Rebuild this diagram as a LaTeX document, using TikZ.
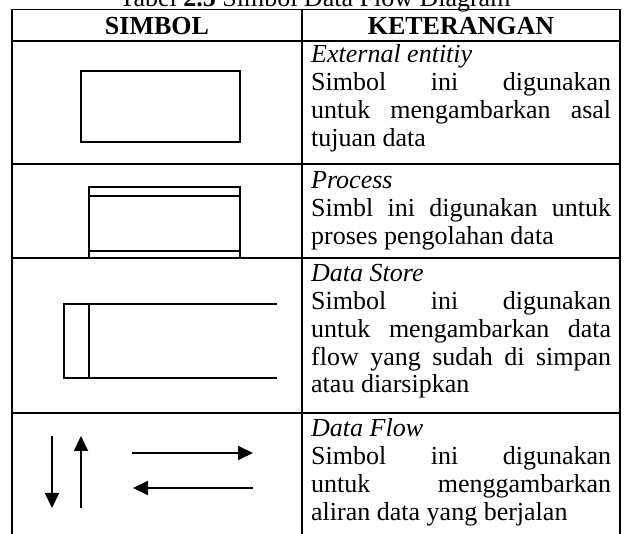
\documentclass[tikz,border=0pt]{standalone}
\usepackage{fontspec}
\setmainfont{Liberation Serif}
\usetikzlibrary{arrows.meta}

\begin{document}
\begin{tikzpicture}[x=1pt,y=-1pt,
  rule/.style={line width=1.8pt,line cap=rect},
  symline/.style={line width=1.3pt},
  flow/.style={line width=2pt,-{Triangle[length=15pt,width=14pt]}},
  txt/.style={inner sep=0pt,font=\fontsize{26}{27.7}\selectfont},
  cell/.style={txt,anchor=base west},
  head/.style={txt,anchor=base,font=\fontsize{26}{27.7}\selectfont\bfseries}]

\useasboundingbox (0,0) rectangle (627,534);

% caption
\node[txt,anchor=base] (caption) at (315,7) {Tabel \textbf{2.5} Simbol Data Flow Diagram};

% table rules
\draw[rule] (12,545) -- (12,9.5) -- (620,9.5) -- (620,545);
\draw[rule] (302,9.5) -- (302,545);
\draw[rule] (12,41) -- (620,41);
\draw[rule] (12,164) -- (620,164);
\draw[rule] (12,258) -- (620,258);
\draw[rule] (12,413) -- (620,413);

% header
\node[head] (hsimbol) at (157,35) {SIMBOL};
\node[head] (hket) at (461,35) {KETERANGAN};

% descriptions
\node[cell] (d1) at (311,63) {\parbox[t]{300pt}{\textit{External entitiy}\\
  Simbol ini digunakan\linebreak untuk mengambarkan asal\linebreak tujuan data}};
\node[cell] (d2) at (311,189) {\parbox[t]{300pt}{\textit{Process}\\
  Simbl ini digunakan untuk\linebreak proses pengolahan data}};
\node[cell] (d3) at (311,282) {\parbox[t]{300pt}{\textit{Data Store}\\
  Simbol ini digunakan\linebreak untuk mengambarkan data\linebreak flow yang sudah di simpan\linebreak atau diarsipkan}};
\node[cell] (d4) at (311,437) {\parbox[t]{300pt}{\textit{Data Flow}\\
  Simbol ini digunakan\linebreak untuk menggambarkan\linebreak aliran data yang berjalan}};

% external entity
\draw[symline] (81,71) rectangle (240,142);

% process
\draw[symline] (89,187) rectangle (240,258);
\draw[symline] (89,196) -- (240,196);
\draw[symline] (89,251) -- (240,251);

% data store
\draw[symline] (277,304) -- (64,304) -- (64,378) -- (277,378);
\draw[symline] (89,304) -- (89,378);

% data flow arrows
\coordinate (dnA) at (52,436);
\coordinate (dnB) at (52,508);
\coordinate (upA) at (81,508);
\coordinate (upB) at (81,436);
\coordinate (rtA) at (132,453);
\coordinate (rtB) at (253,453);
\coordinate (ltA) at (253,488);
\coordinate (ltB) at (133,488);
\draw[flow] (dnA) -- (dnB);
\draw[flow] (upA) -- (upB);
\draw[flow] (rtA) -- (rtB);
\draw[flow] (ltA) -- (ltB);

\end{tikzpicture}
\end{document}
